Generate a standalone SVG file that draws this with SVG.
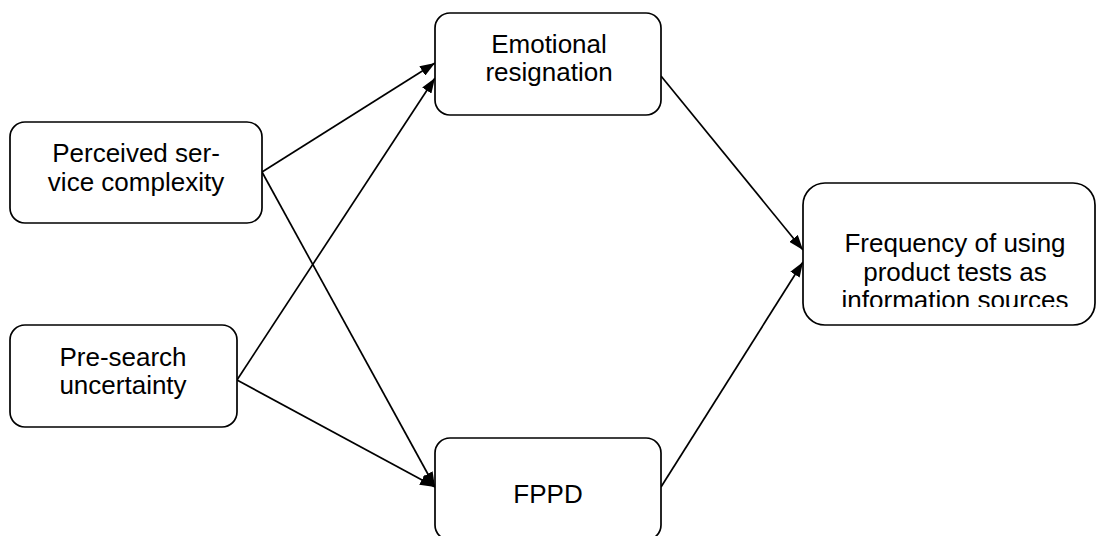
<svg xmlns="http://www.w3.org/2000/svg" width="1097" height="536" viewBox="0 0 1097 536">
  <style>
    .box { fill: #fff; stroke: #000; stroke-width: 1.7; }
    .lbl { font-family: "Liberation Sans", Arial, sans-serif; font-size: 26px; fill: #000; text-anchor: middle; }
    .edge { stroke: #000; stroke-width: 1.7; fill: none; marker-end: url(#arrow); }
  </style>
  <defs>
    <marker id="arrow" viewBox="0 0 15 11" refX="15" refY="5.5" markerWidth="15" markerHeight="11" markerUnits="userSpaceOnUse" orient="auto">
      <path d="M0,0 L15,5.5 L0,11 Z" fill="#000"/>
    </marker>
    <!-- the last label line is cut off by the box's text area -->
    <clipPath id="freqClip">
      <rect x="803" y="183" width="292" height="124"/>
    </clipPath>
  </defs>
  <rect width="1097" height="536" fill="#fff"/>

  <g id="connectors">
    <line class="edge" x1="262" y1="172" x2="435" y2="63"/>
    <line class="edge" x1="237" y1="380" x2="435" y2="78"/>
    <line class="edge" x1="262" y1="172" x2="435" y2="487"/>
    <line class="edge" x1="237" y1="380" x2="435" y2="487"/>
    <line class="edge" x1="661" y1="76" x2="803" y2="250"/>
    <line class="edge" x1="661" y1="487" x2="803" y2="262"/>
  </g>

  <g id="perceived">
    <rect class="box" x="10" y="122" width="252" height="101" rx="15"/>
    <text class="lbl" x="136" y="162">Perceived ser-</text>
    <text class="lbl" x="136" y="191">vice complexity</text>
  </g>

  <g id="presearch">
    <rect class="box" x="10" y="325" width="227" height="102" rx="15"/>
    <text class="lbl" x="123" y="366">Pre-search</text>
    <text class="lbl" x="123" y="394">uncertainty</text>
  </g>

  <g id="emotional">
    <rect class="box" x="435" y="13" width="226" height="102" rx="15"/>
    <text class="lbl" x="549" y="53">Emotional</text>
    <text class="lbl" x="549" y="81">resignation</text>
  </g>

  <g id="fppd">
    <rect class="box" x="435" y="438" width="226" height="102" rx="15"/>
    <text class="lbl" x="548" y="503">FPPD</text>
  </g>

  <g id="frequency">
    <rect class="box" x="803" y="183" width="292" height="142" rx="22"/>
    <g clip-path="url(#freqClip)">
      <text class="lbl" x="955" y="252">Frequency of using</text>
      <text class="lbl" x="955" y="281">product tests as</text>
      <text class="lbl" x="955" y="309">information sources</text>
    </g>
  </g>
</svg>
